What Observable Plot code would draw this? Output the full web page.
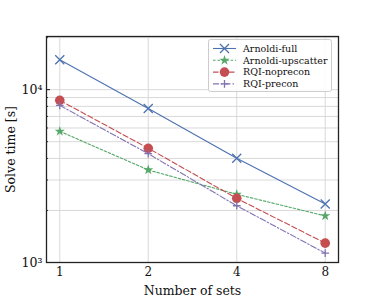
<!DOCTYPE html>
<html><head><meta charset="utf-8">
<script src="https://cdn.jsdelivr.net/npm/d3@7"></script>
<script src="https://cdn.jsdelivr.net/npm/@observablehq/plot@0.6"></script>
<style>body{margin:0;background:#fff} svg{display:block}</style>
</head><body><div id="chart"></div>
<script>
const sets = [1, 2, 4, 8];
const seriesNames = ["Arnoldi-full", "Arnoldi-upscatter", "RQI-noprecon", "RQI-precon"];
const arnoldiFull = [14900, 7780, 4010, 2180];
const arnoldiUpscatter = [5740, 3430, 2480, 1860];
const rqiNoprecon = [8670, 4580, 2350, 1294];
const rqiPrecon = [8110, 4260, 2130, 1133];
const yMajorTicks = [1000, 10000];
const yMajorLabels = ["10³", "10⁴"];
const yMinorTicks = [2000, 3000, 4000, 5000, 6000, 7000, 8000, 9000, 20000];
const xTicks = [1, 2, 4, 8];
const xLabel = "Number of sets";
const yLabel = "Solve time [s]";

const seriesValues = [arnoldiFull, arnoldiUpscatter, rqiNoprecon, rqiPrecon];
const styles = [
  {color: "#4C72B0", dash: null, symbol: "times", r: 4.2, filled: false},
  {color: "#55A868", dash: "2.6,1.8", symbol: "star", r: 3.2, filled: true},
  {color: "#C44E52", dash: "5.5,2.5", symbol: "circle", r: 4.8, filled: true},
  {color: "#8172B2", dash: "6,2,1.5,2", symbol: "plus", r: 2.6, filled: false}
];
const rows = seriesNames.flatMap((name, i) => sets.map((s, j) => ({series: name, idx: i, x: s, y: seriesValues[i][j]})));

const symbolMap = {times: d3.symbolTimes, star: d3.symbolStar, circle: d3.symbolCircle, plus: d3.symbolPlus};

const seriesMarks = seriesNames.flatMap((name, i) => {
  const st = styles[i];
  const data = rows.filter(d => d.idx === i);
  return [
    Plot.line(data, {x: "x", y: "y", stroke: st.color, strokeWidth: 1.1, strokeDasharray: st.dash}),
    Plot.dot(data, {x: "x", y: "y", symbol: st.symbol, r: st.r,
      fill: st.filled ? st.color : "none", stroke: st.filled ? "none" : st.color, strokeWidth: 1.3})
  ];
});

function legend() {
  const g = d3.create("svg:g").attr("font-family", "DejaVu Serif").attr("font-size", 9.5).attr("text-anchor", "start");
  g.append("rect").attr("x", 208.5).attr("y", 39.5).attr("width", 123).attr("height", 52).attr("rx", 2)
    .attr("fill", "#fff").attr("fill-opacity", 0.85).attr("stroke", "#ccc");
  seriesNames.forEach((name, i) => {
    const st = styles[i];
    const y = 48.5 + i * 11.8;
    g.append("line").attr("x1", 213).attr("x2", 236).attr("y1", y).attr("y2", y)
      .attr("stroke", st.color).attr("stroke-width", 1.1).attr("stroke-dasharray", st.dash);
    g.append("path").attr("transform", `translate(224.5,${y})`)
      .attr("d", d3.symbol(symbolMap[st.symbol], st.r * st.r * Math.PI)())
      .attr("fill", st.filled ? st.color : "none").attr("stroke", st.filled ? "none" : st.color).attr("stroke-width", 1.3);
    g.append("text").attr("x", 243).attr("y", y).attr("dy", "0.35em").attr("text-anchor", "start").attr("fill", "#111").text(name);
  });
  return g.node();
}

const chart = Plot.plot({
  width: 375, height: 300,
  marginLeft: 46, marginRight: 37, marginTop: 36, marginBottom: 38,
  style: {fontFamily: "DejaVu Serif", fontSize: "12px", color: "#111", background: "#fff"},
  x: {type: "log", base: 2, domain: [Math.pow(2, -0.15), Math.pow(2, 3.15)]},
  y: {type: "log", domain: [1000, 20300]},
  marks: [
    Plot.gridY(yMinorTicks.concat(yMajorTicks), {stroke: "#d5d5d5", strokeOpacity: 1, strokeWidth: 0.9}),
    Plot.gridX(xTicks, {stroke: "#d5d5d5", strokeOpacity: 1, strokeWidth: 0.9}),
    ...seriesMarks,
    Plot.axisX(xTicks, {tickSize: 0, tickPadding: 5, tickFormat: d => String(d), fontSize: 12,
      label: null}),
    Plot.axisX({ticks: [], label: xLabel, labelAnchor: "center", labelArrow: "none", labelOffset: 32, fontSize: 12.5}),
    Plot.axisY(yMajorTicks, {tickSize: -4, tickPadding: 8, tickFormat: d => yMajorLabels[yMajorTicks.indexOf(d)],
      fontSize: 12.5, label: null}),
    Plot.axisY({ticks: [], label: yLabel, labelAnchor: "center", labelArrow: "none", labelOffset: 40, fontSize: 12.5}),
    Plot.axisY(yMinorTicks, {tickSize: -2, tickFormat: () => "", label: null, stroke: "#333"}),
    Plot.frame({stroke: "#222", strokeWidth: 1.3}),
    legend
  ]
});
document.getElementById("chart").append(chart);
</script>
</body></html>
